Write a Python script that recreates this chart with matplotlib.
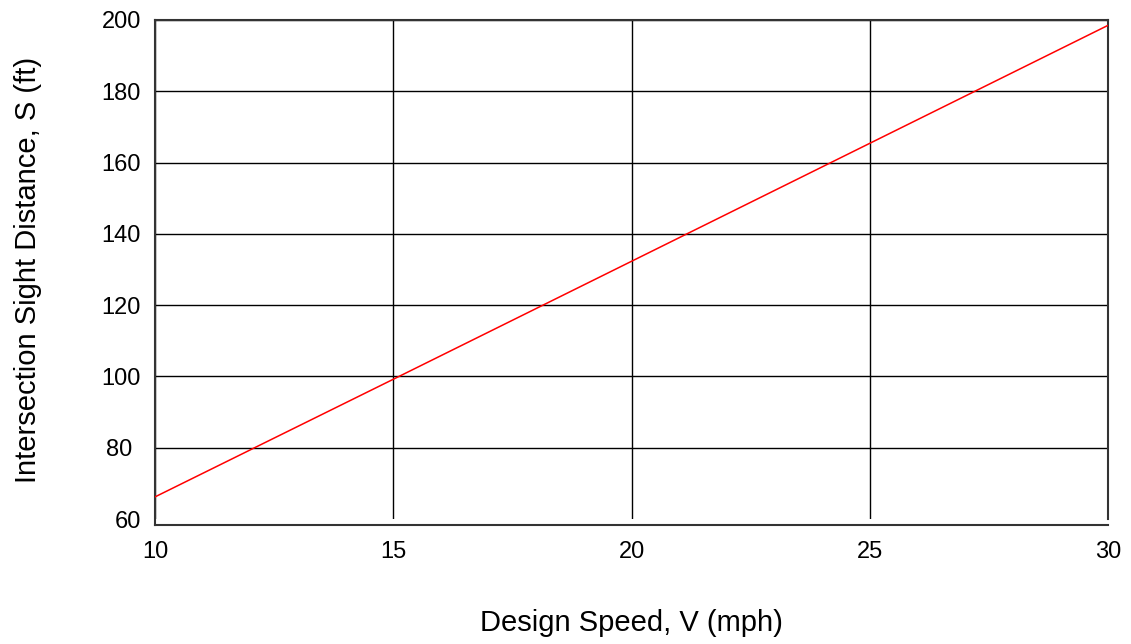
import matplotlib
matplotlib.use("Agg")
import matplotlib.pyplot as plt
from matplotlib.transforms import ScaledTranslation

# Design speed (mph) vs intersection sight distance (ft)
speed_mph = [10, 15, 20, 25, 30]
sight_distance_ft = [66.2, 99.2, 132.3, 165.4, 198.5]

x_ticks = [10, 15, 20, 25, 30]
y_ticks = [60, 80, 100, 120, 140, 160, 180, 200]

plt.rcParams['font.family'] = ['Liberation Sans', 'DejaVu Sans']

fig = plt.figure(figsize=(11.31, 6.44), dpi=100)
ax = fig.add_axes([155 / 1131, 1 - 519 / 644, (1108 - 155) / 1131, (519 - 20) / 644])

ax.plot(speed_mph, sight_distance_ft, color='#ff0000', linewidth=1.1, zorder=3)

ax.set_xlim(10, 30)
ax.set_ylim(60, 200)
ax.set_xticks(x_ticks)
ax.set_yticks(y_ticks)
ax.grid(True, color='black', linewidth=1.0)
ax.set_axisbelow(True)
ax.yaxis.get_gridlines()[0].set_visible(False)

ax.tick_params(axis='both', length=0, labelsize=17)
ax.tick_params(axis='x', pad=11)
ax.tick_params(axis='y', pad=10)

# the "80" label in the original sits flush left with the 3-digit labels
lbl80 = ax.get_yticklabels()[1]
lbl80.set_transform(lbl80.get_transform() + ScaledTranslation(-0.09, 0, fig.dpi_scale_trans))

# bottom axis sits a few pixels below the plot area, left axis reaches down to it
for s in ax.spines.values():
    s.set_color('#333333')
    s.set_linewidth(1.5)
ax.spines['bottom'].set_position(('outward', 4.5))
ax.spines['left'].set_bounds(60 - 6 / 3.564, 200)

ax.set_xlabel('Design Speed, V (mph)', fontsize=21)
ax.set_ylabel('Intersection Sight Distance, S (ft)', fontsize=21)
ax.xaxis.set_label_coords(0.5, -0.18)
ax.yaxis.set_label_coords(-0.119, 0.5)

fig.savefig('out.png', dpi=100)
